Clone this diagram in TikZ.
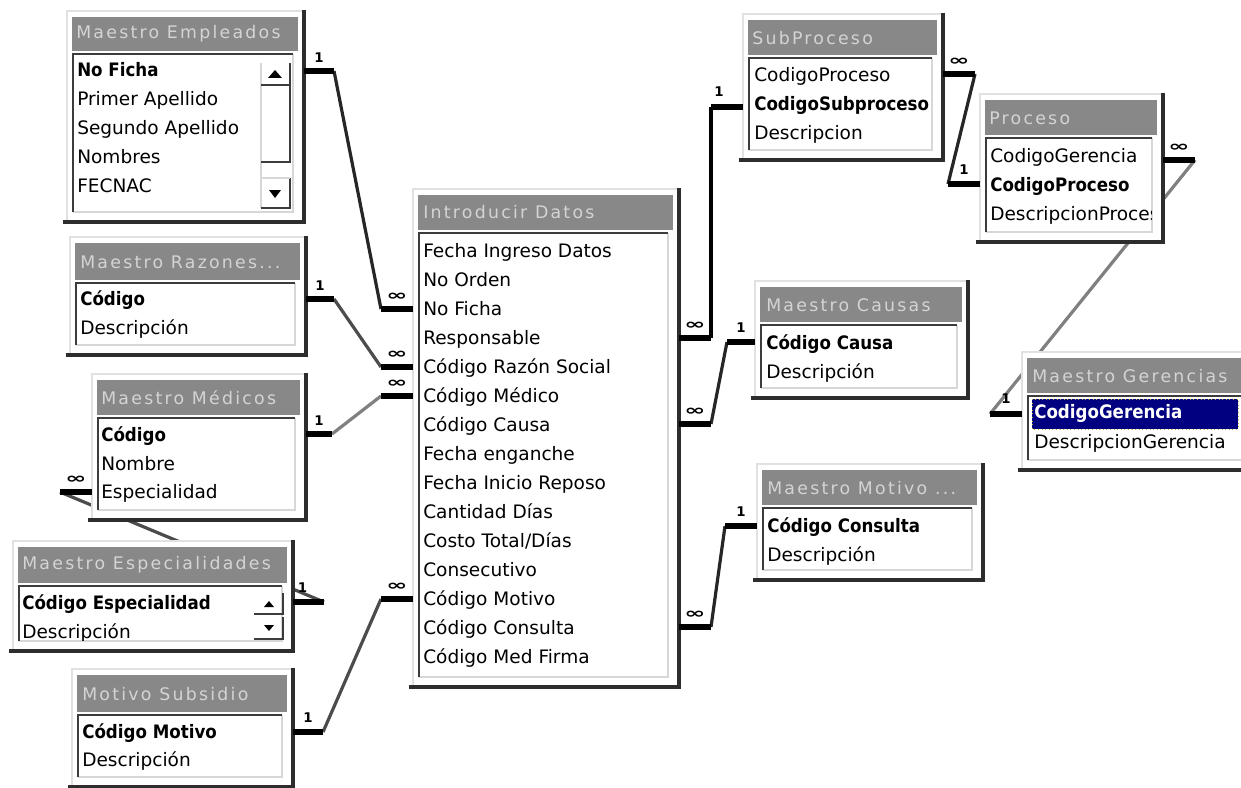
\documentclass[tikz,border=0pt]{standalone}
\usepackage{fontspec}
\usepackage{graphicx}
\setmainfont{DejaVu Sans}
\newfontfamily\titlefont[LetterSpace=13]{DejaVu Sans}
\usetikzlibrary{calc}
\definecolor{titlegray}{RGB}{136,136,136}
\definecolor{titletxt}{RGB}{212,212,212}
\definecolor{shadowc}{RGB}{45,45,45}
\definecolor{framel}{RGB}{225,225,225}
\definecolor{listdark}{RGB}{60,60,60}
\definecolor{listlight}{RGB}{215,215,215}
\definecolor{seln}{RGB}{0,0,128}
\newcommand\bx[1]{\scalebox{0.9}[1]{\bfseries #1}}
\newcommand\inff{\scalebox{1.9}[1.1]{∞}}
\tikzset{
  fld/.style={anchor=west, inner sep=0pt, text height=10pt, text depth=3pt, font=\fontsize{13.9}{16}\selectfont},
  ttl/.style={anchor=west, inner sep=0pt, text=titletxt, font=\fontsize{13}{16}\selectfont\titlefont},
  stub/.style={line width=4.4pt, black},
  reldark/.style={line width=2.4pt, black!85},
  relmid/.style={line width=2.4pt, black!70},
  relgray/.style={line width=2.4pt, black!50},
  card/.style={inner sep=0pt, font=\fontsize{10}{10}\selectfont\bfseries},
  shadowline/.style={line width=3.6pt, shadowc},
  btn/.style={line width=1.5pt, listdark},
}
\newcommand\tblframe[5]{% L R T TB LB
  \fill[white] ({#1-5},{#3-6}) rectangle ({#2+4},{#5+8});
  \draw[framel, line width=1pt] ({#1-5},{#5+8}) -- ({#1-5},{#3-6}) -- ({#2+4},{#3-6});
  \fill[titlegray] (#1,#3) rectangle (#2,#4);
  \draw[listlight, line width=1pt] ({#2-5},{#4+3}) -- ({#2-5},#5) -- ({#1+1},#5);
  \draw[listdark, line width=1.8pt] ({#1+1},{#5}) -- ({#1+1},{#4+3}) -- ({#2-5},{#4+3});
  \draw[shadowline] ({#2+6},{#3-7}) -- ({#2+6},{#5+11});
  \draw[shadowline] ({#1-9},{#5+10}) -- ({#2+7.5},{#5+10});
}
\begin{document}
\begin{tikzpicture}[x=0.75pt,y=-0.75pt]
\useasboundingbox (0,0) rectangle (1241,788);
\fill[white] (0,0) rectangle (1241,788);

% ---------- connector coordinates ----------
\coordinate (A1) at (304,71);  \coordinate (A2) at (334,71);
\coordinate (A3) at (381,309); \coordinate (A4) at (413,309);
\coordinate (B1) at (306,299); \coordinate (B2) at (334,299);
\coordinate (B3) at (381,367); \coordinate (B4) at (413,367);
\coordinate (C1) at (306,434); \coordinate (C2) at (332,434);
\coordinate (C3) at (381,396); \coordinate (C4) at (413,396);
\coordinate (D1) at (293,602); \coordinate (D2) at (324,602);
\coordinate (D3) at (60,492);  \coordinate (D4) at (92,492);
\coordinate (E1) at (293,732); \coordinate (E2) at (323,732);
\coordinate (E3) at (381,599); \coordinate (E4) at (413,599);
\coordinate (F1) at (679,338); \coordinate (F2) at (711,338);
\coordinate (F3) at (711,107); \coordinate (F4) at (743,107);
\coordinate (G1) at (679,424); \coordinate (G2) at (711,424);
\coordinate (G3) at (727,342); \coordinate (G4) at (755,342);
\coordinate (H1) at (679,627); \coordinate (H2) at (711,627);
\coordinate (H3) at (725,526); \coordinate (H4) at (757,526);
\coordinate (I1) at (943,74);  \coordinate (I2) at (975,74);
\coordinate (I3) at (948,184); \coordinate (I4) at (980,184);
\coordinate (J1) at (1163,160); \coordinate (J2) at (1195,160);
\coordinate (J3) at (990,414); \coordinate (J4) at (1022,414);

% ---------- connector lines (behind the windows) ----------
\draw[reldark] (A2) -- (A3);
\draw[relmid]  (B2) -- (B3);
\draw[relgray] (C2) -- (C3);
\draw[relmid]  (D3) -- (D2);
\draw[relmid]  (E2) -- (E3);
\draw[line width=2.8pt, black] (F2) -- (F3);
\draw[reldark] (G2) -- (G3);
\draw[reldark] (H2) -- (H3);
\draw[reldark] (I2) -- (I3);
\draw[relgray] (J2) -- (J3);

% ---------- Maestro Empleados ----------
\tblframe{72}{298}{17}{51}{212}
\node[ttl] (emp-t) at (76,34) {Maestro Empleados};
\node[fld] (emp-r1) at (77,72) {\bx{No Ficha}};
\node[fld] (emp-r2) at (77,101) {Primer Apellido};
\node[fld] (emp-r3) at (77,130) {Segundo Apellido};
\node[fld] (emp-r4) at (77,159) {Nombres};
\node[fld] (emp-r5) at (77,188) {FECNAC};
\draw[listlight, line width=1pt] (261,63) -- (261,208);
\draw[btn] (261,85) -- (290,85) -- (290,63);
\fill[black] (268,78) -- (282,78) -- (275,70) -- cycle;
\draw[btn] (261,162) -- (290,162) -- (290,86);
\draw[btn] (261,208) -- (290,208) -- (290,178);
\draw[listlight, line width=1pt] (261,178) -- (290,178);
\fill[black] (269,190) -- (281,190) -- (275,198) -- cycle;

% ---------- Maestro Razones ----------
\tblframe{75}{300}{243}{280}{345}
\node[ttl] (raz-t) at (80,262) {Maestro Razones...};
\node[fld] (raz-r1) at (80,301) {\bx{Código}};
\node[fld] (raz-r2) at (80,330) {Descripción};

% ---------- Maestro Medicos ----------
\tblframe{97}{300}{380}{415}{510}
\node[ttl] (med-t) at (101,398) {Maestro Médicos};
\node[fld] (med-r1) at (101,437) {\bx{Código}};
\node[fld] (med-r2) at (101,466) {Nombre};
\node[fld] (med-r3) at (101,494) {Especialidad};

% ---------- Maestro Especialidades ----------
\tblframe{18}{287}{547}{583}{641}
\begin{scope}
\clip (18,547) rectangle (287,583);
\node[ttl] (esp-t) at (22,565) {Maestro Especialidades};
\end{scope}
\begin{scope}
\clip (20,586) rectangle (282,640);
\node[fld] (esp-r1) at (22,605) {\bx{Código Especialidad}};
\node[fld] (esp-r2) at (22,634) {Descripción};
\end{scope}
\draw[btn] (254,614) -- (283,614) -- (283,593);
\fill[black] (264,607) -- (274,607) -- (269,601) -- cycle;
\draw[btn] (254,639) -- (283,639) -- (283,617);
\fill[black] (264,625) -- (274,625) -- (269,631) -- cycle;

% ---------- Motivo Subsidio ----------
\tblframe{77}{287}{675}{712}{777}
\node[ttl] (mot-t) at (82,694) {Motivo Subsidio};
\node[fld] (mot-r1) at (82,734) {\bx{Código Motivo}};
\node[fld] (mot-r2) at (82,762) {Descripción};

% ---------- Introducir Datos ----------
\tblframe{418}{673}{195}{230}{677}
\node[ttl] (int-t) at (423,212) {Introducir Datos};
\foreach \t [count=\i from 0] in {Fecha Ingreso Datos, No Orden, No Ficha, Responsable,
  Código Razón Social, Código Médico, Código Causa, Fecha enganche, Fecha Inicio Reposo,
  Cantidad Días, Costo Total/Días, Consecutivo, Código Motivo, Código Consulta, Código Med Firma}
  \node[fld] (int-r\i) at (423,{253+29*\i}) {\t};

% ---------- SubProceso ----------
\tblframe{748}{937}{20}{55}{150}
\node[ttl] (sub-t) at (752,38) {SubProceso};
\node[fld] (sub-r1) at (754,77) {CodigoProceso};
\node[fld] (sub-r2) at (754,106) {\bx{CodigoSubproceso}};
\node[fld] (sub-r3) at (754,135) {Descripcion};

% ---------- Proceso ----------
\tblframe{985}{1157}{100}{135}{232}
\node[ttl] (pro-t) at (989,118) {Proceso};
\begin{scope}
\clip (987,138) rectangle (1151,231);
\node[fld] (pro-r1) at (990,158) {CodigoGerencia};
\node[fld] (pro-r2) at (990,187) {\bx{CodigoProceso}};
\node[fld] (pro-r3) at (990,216) {DescripcionProceso};
\end{scope}

% ---------- Maestro Causas ----------
\tblframe{760}{962}{287}{322}{388}
\node[ttl] (cau-t) at (766,305) {Maestro Causas};
\node[fld] (cau-r1) at (766,345) {\bx{Código Causa}};
\node[fld] (cau-r2) at (766,374) {Descripción};

% ---------- Maestro Motivo ----------
\tblframe{762}{977}{470}{505}{570}
\node[ttl] (mmo-t) at (767,488) {Maestro Motivo ...};
\node[fld] (mmo-r1) at (767,528) {\bx{Código Consulta}};
\node[fld] (mmo-r2) at (767,557) {Descripción};

% ---------- Maestro Gerencias ----------
\tblframe{1027}{1252}{358}{393}{460}
\begin{scope}
\clip (1027,358) rectangle (1241,393);
\node[ttl] (ger-t) at (1032,376) {Maestro Gerencias};
\end{scope}
\fill[seln] (1032,399) rectangle (1238,429);
\draw[yellow!70!black, dotted, line width=0.7pt] (1032,399) rectangle (1238,429);
\node[fld, text=white] (ger-r1) at (1034,414) {\bx{CodigoGerencia}};
\node[fld] (ger-r2) at (1034,444) {DescripcionGerencia};

% ---------- stubs and cardinality labels ----------
\foreach \s in {A,B,C,D,E,F,G,H,I,J} {
  \draw[stub] (\s1) -- (\s2);
  \draw[stub] (\s3) -- (\s4);
}
\node[card] (A-one) at ($(A1)!0.5!(A2)+(0,-13)$) {1};
\node[card] (A-inf) at ($(A3)!0.5!(A4)+(0,-12)$) {\inff};
\node[card] (B-one) at ($(B1)!0.5!(B2)+(0,-13)$) {1};
\node[card] (B-inf) at ($(B3)!0.5!(B4)+(0,-12)$) {\inff};
\node[card] (C-one) at ($(C1)!0.5!(C2)+(0,-13)$) {1};
\node[card] (C-inf) at ($(C3)!0.5!(C4)+(0,-12)$) {\inff};
\node[card] (D-one) at ($(D1)!0.5!(D2)+(-6,-14)$) {1};
\node[card] (D-inf) at ($(D3)!0.5!(D4)+(0,-12)$) {\inff};
\node[card] (E-one) at ($(E1)!0.5!(E2)+(0,-14)$) {1};
\node[card] (E-inf) at ($(E3)!0.5!(E4)+(0,-12)$) {\inff};
\node[card] (F-inf) at ($(F1)!0.5!(F2)+(0,-12)$) {\inff};
\node[card] (F-one) at ($(F3)!0.5!(F4)+(-8,-15)$) {1};
\node[card] (G-inf) at ($(G1)!0.5!(G2)+(0,-12)$) {\inff};
\node[card] (G-one) at ($(G3)!0.5!(G4)+(0,-14)$) {1};
\node[card] (H-inf) at ($(H1)!0.5!(H2)+(0,-12)$) {\inff};
\node[card] (H-one) at ($(H3)!0.5!(H4)+(0,-14)$) {1};
\node[card] (I-inf) at ($(I1)!0.5!(I2)+(0,-12)$) {\inff};
\node[card] (I-one) at ($(I3)!0.5!(I4)+(0,-14)$) {1};
\node[card] (J-inf) at ($(J1)!0.5!(J2)+(0,-12)$) {\inff};
\node[card] (J-one) at ($(J3)!0.5!(J4)+(0,-15)$) {1};
\end{tikzpicture}
\end{document}
